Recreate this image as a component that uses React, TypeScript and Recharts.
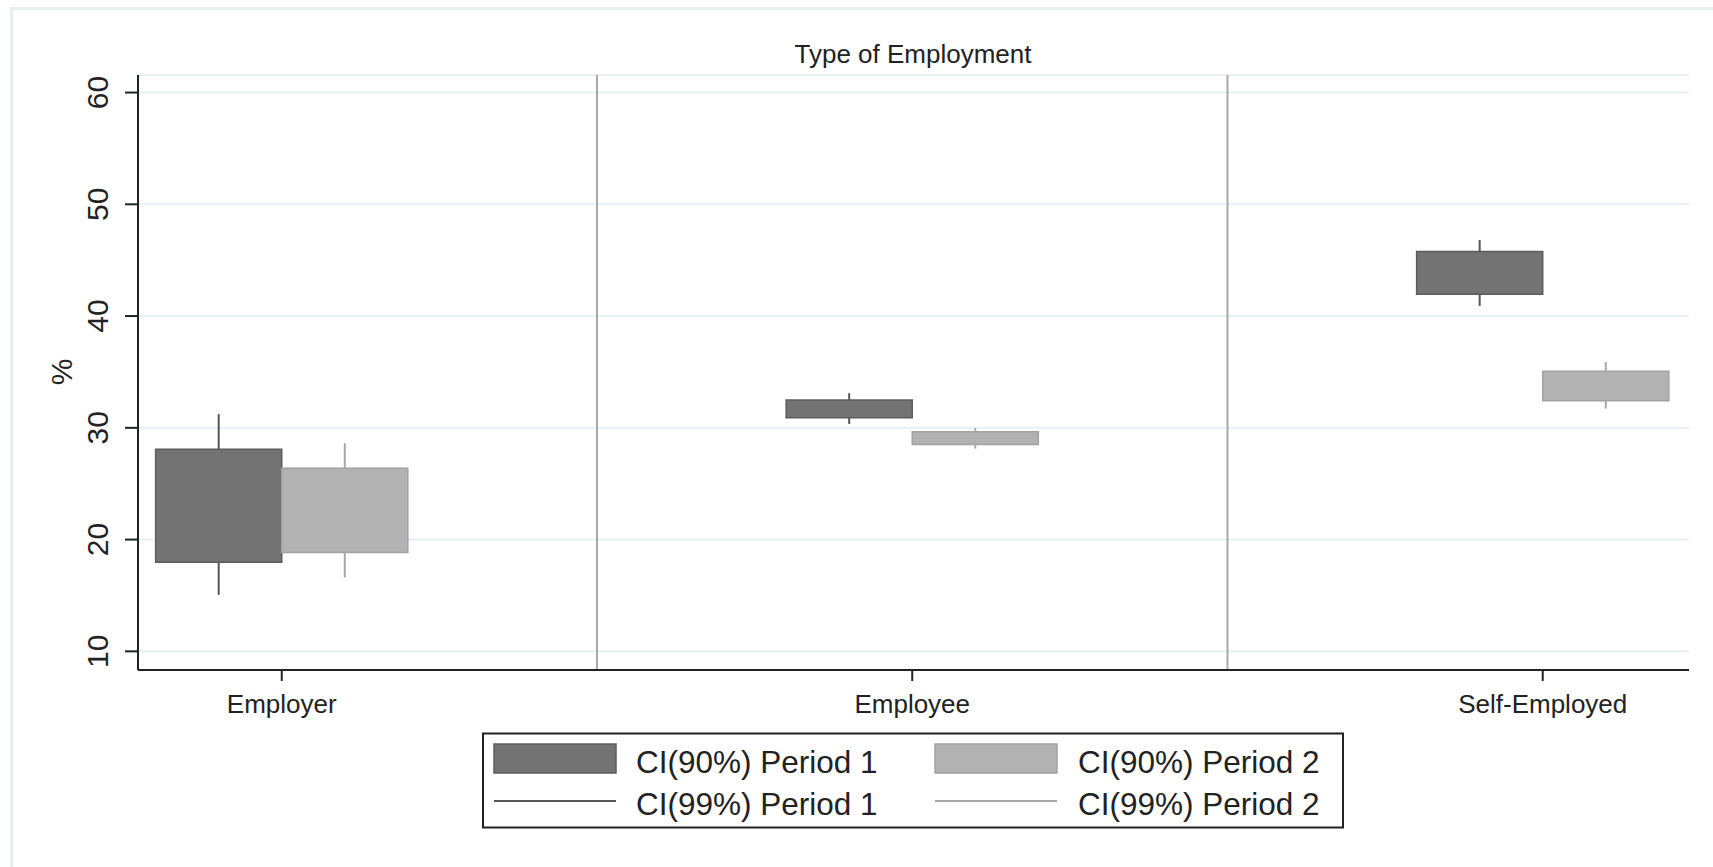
import {
  ComposedChart,
  XAxis,
  YAxis,
  CartesianGrid,
  ReferenceArea,
  ReferenceLine,
  Scatter,
} from "recharts";

const FONT = "'Liberation Sans', Arial, Helvetica, sans-serif";

// categories on a numeric axis at 1, 2, 3
const categories = ["Employer", "Employee", "Self-Employed"];
const catPos = [1, 2, 3];

// Period 1 (90% box, 99% whisker)
const p1Lo90 = [17.97, 30.89, 41.95];
const p1Hi90 = [28.08, 32.5, 45.77];
const p1Lo99 = [15.05, 30.35, 40.91];
const p1Hi99 = [31.22, 33.1, 46.81];

// Period 2
const p2Lo90 = [18.84, 28.5, 32.43];
const p2Hi90 = [26.39, 29.64, 35.06];
const p2Lo99 = [16.6, 28.14, 31.72];
const p2Hi99 = [28.62, 29.99, 35.9];

const yTicks = [10, 20, 30, 40, 50, 60];
const separators = [1.5, 2.5];

const BOX_W = 0.2;
const P1 = { fill: "#737373", edge: "#5c5c5c", whisker: "#555555" };
const P2 = { fill: "#b2b2b2", edge: "#a2a2a2", whisker: "#a8a8a8" };

const series = [
  { lo90: p1Lo90, hi90: p1Hi90, lo99: p1Lo99, hi99: p1Hi99, off: -BOX_W, col: P1 },
  { lo90: p2Lo90, hi90: p2Hi90, lo99: p2Lo99, hi99: p2Hi99, off: 0, col: P2 },
];

const centers = catPos.map((c) => ({ x: c, y: 30 }));

function YTick({ x, y, payload }: any) {
  const bx = x - 17;
  return (
    <text
      x={bx}
      y={y}
      transform={`rotate(-90 ${bx} ${y})`}
      textAnchor="middle"
      fontSize={30}
      fontFamily={FONT}
      fill="#222"
    >
      {payload.value}
    </text>
  );
}

function XTick({ x, y, payload }: any) {
  const i = catPos.indexOf(payload.value);
  return (
    <text x={x} y={y + 32} textAnchor="middle" fontSize={26} fontFamily={FONT} fill="#222">
      {categories[i]}
    </text>
  );
}

const legendItems = [
  { label: "CI(90%) Period 1", kind: "box", col: P1, row: 0, colIdx: 0 },
  { label: "CI(90%) Period 2", kind: "box", col: P2, row: 0, colIdx: 1 },
  { label: "CI(99%) Period 1", kind: "line", col: P1, row: 1, colIdx: 0 },
  { label: "CI(99%) Period 2", kind: "line", col: P2, row: 1, colIdx: 1 },
];

function Overlay() {
  const swX = [494, 935];
  const txX = [636, 1078];
  const baseY = [773, 815];
  return (
    <svg width={1713} height={867} style={{ position: "absolute", left: 0, top: 0, pointerEvents: "none" }}>
      {/* graph region frame */}
      <line x1={10} y1={8.5} x2={1713} y2={8.5} stroke="#e6eeef" strokeWidth={3} />
      <line x1={11.5} y1={7} x2={11.5} y2={867} stroke="#e6eeef" strokeWidth={3} />

      <text x={913} y={63} textAnchor="middle" fontSize={26} fontFamily={FONT} fill="#222">
        Type of Employment
      </text>
      <text
        x={72}
        y={372}
        transform="rotate(-90 72 372)"
        textAnchor="middle"
        fontSize={30}
        fontFamily={FONT}
        fill="#222"
      >
        %
      </text>

      {/* legend */}
      <rect x={483} y={733.5} width={860} height={94} fill="#fff" stroke="#222" strokeWidth={2} />
      {legendItems.map((it) => {
        const sx = swX[it.colIdx];
        const by = baseY[it.row];
        return (
          <g key={it.label}>
            {it.kind === "box" ? (
              <rect x={sx} y={744} width={122} height={29} fill={it.col.fill} stroke={it.col.edge} strokeWidth={1.5} />
            ) : (
              <line x1={sx} y1={801} x2={sx + 122} y2={801} stroke={it.col.whisker} strokeWidth={2} />
            )}
            <text x={txX[it.colIdx]} y={by} fontSize={31.5} fontFamily={FONT} fill="#222">
              {it.label}
            </text>
          </g>
        );
      })}
    </svg>
  );
}

export default function App() {
  return (
    <div
      style={{
        position: "fixed",
        left: 0,
        top: 0,
        width: 1713,
        height: 867,
        background: "#fff",
        overflow: "hidden",
      }}
    >
      <ComposedChart
        width={1713}
        height={867}
        data={centers}
        margin={{ top: 75, right: 24, bottom: 0, left: 0 }}
      >
        <CartesianGrid vertical={false} stroke="#e8f0f2" strokeWidth={2} />
        <XAxis
          type="number"
          dataKey="x"
          domain={[0.772, 3.232]}
          ticks={catPos}
          allowDataOverflow
          height={197}
          tickSize={11}
          tickMargin={0}
          axisLine={{ stroke: "#222", strokeWidth: 2 }}
          tickLine={{ stroke: "#222", strokeWidth: 2 }}
          tick={<XTick />}
        />
        <YAxis
          type="number"
          domain={[8.33, 61.57]}
          ticks={yTicks}
          allowDataOverflow
          width={138}
          tickSize={13}
          tickMargin={0}
          axisLine={{ stroke: "#222", strokeWidth: 2 }}
          tickLine={{ stroke: "#222", strokeWidth: 2 }}
          tick={<YTick />}
        />
        {separators.map((s) => (
          <ReferenceLine key={s} x={s} stroke="#a9a9a9" strokeWidth={2} />
        ))}
        {series.map((s, si) =>
          catPos.map((c, i) => (
            <ReferenceArea
              key={`b${si}-${i}`}
              x1={c + s.off}
              x2={c + s.off + BOX_W}
              y1={s.lo90[i]}
              y2={s.hi90[i]}
              fill={s.col.fill}
              fillOpacity={1}
              stroke={s.col.edge}
              strokeWidth={1.5}
            />
          ))
        )}
        {/* 99% whiskers: drawn above and below the 90% box */}
        {series.map((s, si) =>
          catPos.map((c, i) => {
            const wx = c + s.off + BOX_W / 2;
            return [
              <ReferenceLine
                key={`wh${si}-${i}`}
                segment={[
                  { x: wx, y: s.hi90[i] },
                  { x: wx, y: s.hi99[i] },
                ]}
                stroke={s.col.whisker}
                strokeWidth={2}
              />,
              <ReferenceLine
                key={`wl${si}-${i}`}
                segment={[
                  { x: wx, y: s.lo99[i] },
                  { x: wx, y: s.lo90[i] },
                ]}
                stroke={s.col.whisker}
                strokeWidth={2}
              />,
            ];
          })
        )}
        <Scatter dataKey="y" isAnimationActive={false} shape={() => <g />} />
      </ComposedChart>
      <Overlay />
    </div>
  );
}
